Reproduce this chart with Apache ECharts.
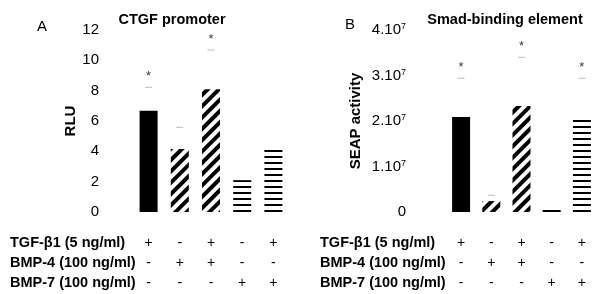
<!DOCTYPE html>
<html lang="en">
    <head>
        <meta charset="UTF-8">
        <title>CTGF promoter / Smad-binding element</title>
        <script src="https://cdn.jsdelivr.net/npm/echarts@6/dist/echarts.min.js"></script>
        <style>
            html, body { margin: 0; padding: 0; background: #fff; }
            #main { width: 600px; height: 294px; }
        </style>
    </head>

    <body>
        <div id="main"></div>

        <script>
            // 数据
            var categories = ['1', '2', '3', '4', '5'];
            var rowNames = ['TGF-β1 (5 ng/ml)', 'BMP-4 (100 ng/ml)', 'BMP-7 (100 ng/ml)'];
            var tgfRow = ['+', '-', '+', '-', '+'];
            var bmp4Row = ['-', '+', '+', '-', '-'];
            var bmp7Row = ['-', '-', '-', '+', '+'];

            var rluValues = [6.68, 4.15, 8.09, 2.1, 4.2];
            var rluErrTop = [8.22, 5.58, 10.68, null, null];
            var rluSig = [true, false, true, false, false];

            var seapValues = [2.09e7, 0.24e7, 2.33e7, 0.12e7, 2.07e7];
            var seapErrTop = [2.94e7, 0.37e7, 3.4e7, null, 2.94e7];
            var seapSig = [true, false, true, false, true];

            // 0 2 4 ... 12 / 0 1.10^7 ... 4.10^7
            var rluTicks = [0, 12, 2];
            var seapTicks = [0, 4e7, 1e7];

            var fontFamily = 'Liberation Sans, Arial, sans-serif';

            var diagDecal = {
                symbol: 'rect', symbolSize: 1,
                dashArrayX: [1, 0], dashArrayY: [3.5, 3.5],
                rotation: -Math.PI / 4, color: '#000', backgroundColor: '#fff'
            };
            var horizDecal = {
                symbol: 'rect', symbolSize: 1,
                dashArrayX: [1, 0], dashArrayY: [2, 4],
                rotation: 0, color: '#000', backgroundColor: '#fff'
            };
            var patterns = [null, diagDecal, diagDecal, horizDecal, horizDecal];

            function barData(values) {
                return values.map(function (v, i) {
                    if (!patterns[i]) {
                        return { value: v, itemStyle: { color: '#000' } };
                    }
                    return { value: v, itemStyle: { color: '#fff', decal: patterns[i] } };
                });
            }

            function capData(tops, sig) {
                return tops.map(function (v, i) {
                    return { value: v, label: { show: sig[i] } };
                });
            }

            function xAxis(gridIndex) {
                return {
                    type: 'category', gridIndex: gridIndex, data: categories,
                    axisLine: { show: false }, axisTick: { show: false },
                    axisLabel: {
                        margin: 21, fontSize: 14, lineHeight: 20, color: '#000', fontFamily: fontFamily,
                        formatter: function (val, idx) {
                            return [tgfRow[idx], bmp4Row[idx], bmp7Row[idx]].join('\n');
                        }
                    }
                };
            }

            var chart = echarts.init(document.getElementById('main'), null, { renderer: 'canvas' });

            var option = {
                backgroundColor: '#fff',
                animation: false,
                textStyle: { fontFamily: fontFamily },
                title: [
                    { text: 'CTGF promoter', left: 167, top: 7, textAlign: 'center',
                      textStyle: { fontSize: 14.5, fontWeight: 'bold', color: '#000' } },
                    { text: 'Smad-binding element', left: 500, top: 7, textAlign: 'center',
                      textStyle: { fontSize: 14.5, fontWeight: 'bold', color: '#000' } }
                ],
                grid: [
                    { left: 133, width: 156, top: 30, bottom: 82 },
                    { left: 446, width: 151, top: 30, bottom: 82 }
                ],
                xAxis: [xAxis(0), xAxis(1)],
                yAxis: [
                    {
                        type: 'value', gridIndex: 0,
                        min: rluTicks[0], max: rluTicks[1], interval: rluTicks[2],
                        name: 'RLU', nameLocation: 'middle', nameGap: 45,
                        nameTextStyle: { fontSize: 15, fontWeight: 'bold', color: '#000' },
                        axisLine: { show: false }, axisTick: { show: false }, splitLine: { show: false },
                        axisLabel: { margin: 34, fontSize: 15, color: '#000' }
                    },
                    {
                        type: 'value', gridIndex: 1,
                        min: seapTicks[0], max: seapTicks[1], interval: seapTicks[2],
                        name: 'SEAP activity', nameLocation: 'middle', nameGap: 83,
                        nameTextStyle: { fontSize: 15, fontWeight: 'bold', color: '#000' },
                        axisLine: { show: false }, axisTick: { show: false }, splitLine: { show: false },
                        axisLabel: {
                            margin: 40, fontSize: 15, color: '#000',
                            formatter: function (v) {
                                if (v === 0) return '0';
                                return (v / 1e7) + '.10{sup|7}';
                            },
                            rich: { sup: { fontSize: 9, verticalAlign: 'top', padding: [0, 0, 6, 0], color: '#000' } }
                        }
                    }
                ],
                series: [
                    { type: 'bar', xAxisIndex: 0, yAxisIndex: 0, barWidth: 18, data: barData(rluValues) },
                    {
                        type: 'scatter', xAxisIndex: 0, yAxisIndex: 0,
                        symbol: 'rect', symbolSize: [7, 1],
                        itemStyle: { color: '#aaa' },
                        label: { position: 'top', distance: 4, formatter: '*', fontSize: 13, color: '#000' },
                        data: capData(rluErrTop, rluSig)
                    },
                    { type: 'bar', xAxisIndex: 1, yAxisIndex: 1, barWidth: 18, data: barData(seapValues) },
                    {
                        type: 'scatter', xAxisIndex: 1, yAxisIndex: 1,
                        symbol: 'rect', symbolSize: [7, 1],
                        itemStyle: { color: '#aaa' },
                        label: { position: 'top', distance: 4, formatter: '*', fontSize: 13, color: '#000' },
                        data: capData(seapErrTop, seapSig)
                    }
                ],
                graphic: [
                    { type: 'text', left: 37, top: 19, style: { text: 'A', fontSize: 15, fill: '#000', fontFamily: fontFamily } },
                    { type: 'text', left: 345, top: 17, style: { text: 'B', fontSize: 15, fill: '#000', fontFamily: fontFamily } }
                ]
            };

            // 表格行标题
            rowNames.forEach(function (name, r) {
                [10, 320].forEach(function (x) {
                    option.graphic.push({
                        type: 'text', left: x, top: 235 + r * 20,
                        style: { text: name, fontSize: 14.5, fontWeight: 'bold', fill: '#000', fontFamily: fontFamily }
                    });
                });
            });

            chart.setOption(option);
        </script>
    </body>

</html>
